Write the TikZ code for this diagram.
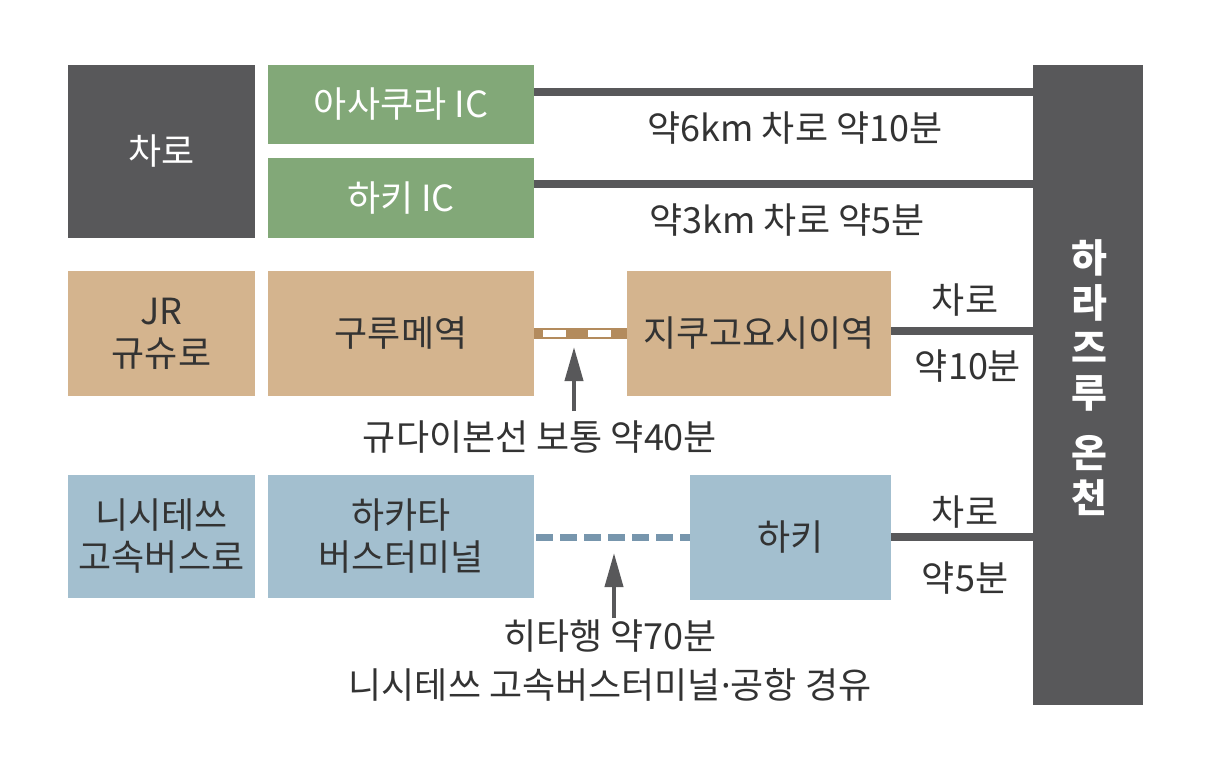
\documentclass[tikz,border=0pt]{standalone}
\usepackage{fontspec}
\setmainfont{Noto Sans CJK KR}
\newfontfamily\latinfont{Noto Sans}
\usetikzlibrary{arrows.meta}
\usetikzlibrary{positioning}
\definecolor{roadgray}{RGB}{88,88,90}
\definecolor{icgreen}{RGB}{130,168,120}
\definecolor{jrtan}{RGB}{212,180,142}
\definecolor{railbrown}{RGB}{179,139,93}
\definecolor{busblue}{RGB}{163,191,207}
\definecolor{busline}{RGB}{119,150,173}
\definecolor{inkgray}{RGB}{51,51,51}

\begin{document}
\begin{tikzpicture}[x=1pt,y=-1pt,%
  every node/.style={inner sep=0pt,outer sep=0pt,font=\fontsize{36}{42}\selectfont,align=center},
  box/.style={anchor=north west,minimum height=125pt},
  darkbox/.style={box,fill=roadgray,text=white},
  greenbox/.style={box,fill=icgreen,text=white,minimum width=266pt,minimum height=79pt},
  tanbox/.style={box,fill=jrtan,text=inkgray},
  bluebox/.style={box,fill=busblue,text=inkgray},
  note/.style={text=inkgray},
  road/.style={draw=roadgray,line width=8pt},
  pointer/.style={draw=roadgray,line width=4pt,-{Triangle[width=18pt,length=34pt]}}]
  \useasboundingbox (0,0) rectangle (1220,764);
  % the boxes
  \node[darkbox,minimum width=187pt,minimum height=173pt] (drive) at (68,65) {차로};
  \node[greenbox] (asakura) at (268,65) {아사쿠라 IC};
  \node[greenbox,below=14pt of asakura,minimum height=80pt] (hakiic) {하키 IC};
  \node[darkbox,minimum width=110pt,minimum height=640pt] (onsen) at (1033,65) {};
  \node[text=white,font=\bfseries\fontsize{39}{45}\selectfont] at (1089,378) {하\\라\\즈\\루\\[15pt]온\\천};
  \node[tanbox,minimum width=187pt] (jr) at (68,271) {JR\\규슈로};
  \node[tanbox,minimum width=266pt] (kurume) at (268,271) {구루메역};
  \node[tanbox,minimum width=264pt] (yoshii) at (627,271) {지쿠고요시이역};
  \node[bluebox,minimum width=187pt,minimum height=123pt] (nishitetsu) at (68,475) {니시테쓰\\고속버스로};
  \node[bluebox,minimum width=266pt,minimum height=123pt] (hakata) at (268,475) {하카타\\버스터미널};
  \node[bluebox,minimum width=201pt] (haki) at (690,475) {하키};
  % the roads
  \draw[road] (asakura.east |- 0,92) -- (onsen.west |- 0,92);
  \node[note] (asakuranote) at (795,128) {약6km 차로 약10분};
  \draw[road] (hakiic.east |- 0,184) -- (onsen.west |- 0,184);
  \node[note] (hakiicnote) at (787,220) {약3km 차로 약5분};
  \draw[road] (yoshii.east |- 0,331) -- (onsen.west |- 0,331);
  \node[note] at (965,300) {차로};
  \node[note] at (968,366) {약10분};
  \draw[road] (haki.east |- 0,537) -- (onsen.west |- 0,537);
  \node[note] at (965,512) {차로};
  \node[note] at (965,578) {약5분};
  % the rail and the bus
  \draw[railbrown,line width=11pt] (kurume.east |- 0,333.5) -- (yoshii.west |- 0,333.5);
  \draw[white,line width=7pt,dash pattern=on 23pt off 22pt,dash phase=36pt] (kurume.east |- 0,333.5) -- (yoshii.west |- 0,333.5);
  \draw[busline,line width=7pt,dash pattern=on 17pt off 7pt,dash phase=-2pt] (hakata.east |- 0,537.5) -- (haki.west |- 0,537.5);
  \coordinate (railtip) at (574,347);
  \coordinate (railfoot) at (574,411);
  \draw[pointer] (railfoot) -- (railtip);
  \node[note] (railnote) at (540,437) {규다이본선 보통 약40분};
  \coordinate (bustip) at (614,553);
  \coordinate (busfoot) at (614,618);
  \draw[pointer] (busfoot) -- (bustip);
  \node[note,font=\fontsize{36}{49}\selectfont] (busnote) at (610,661) {히타행 약70분\\니시테쓰 고속버스터미널{\latinfont ·}공항 경유};
\end{tikzpicture}
\end{document}
